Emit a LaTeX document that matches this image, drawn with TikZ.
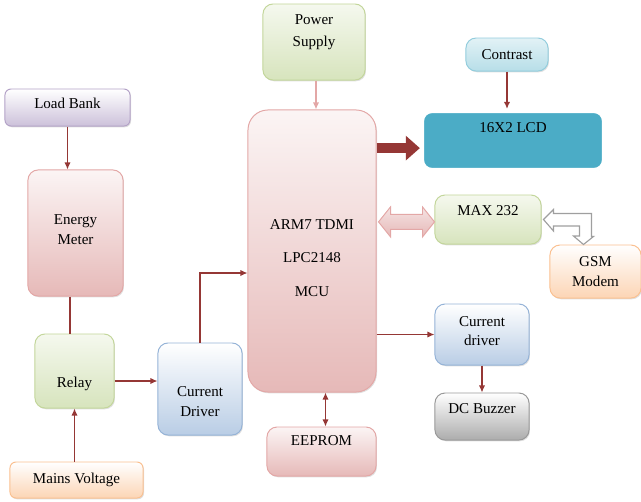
\documentclass[tikz,border=0pt]{standalone}
\usepackage{fontspec}
\setmainfont{Liberation Serif}
\usetikzlibrary{arrows.meta,shadows}

\definecolor{arrowred}{HTML}{953735}
\definecolor{pinkline}{HTML}{E3A7A6}
\definecolor{pinkbot}{HTML}{E6B9B8}
\definecolor{greenline}{HTML}{C3D69B}
\definecolor{greenbot}{HTML}{D7E4BD}
\definecolor{purpleline}{HTML}{B3A2C7}
\definecolor{purplebot}{HTML}{CCC1DA}
\definecolor{blueline}{HTML}{95B3D7}
\definecolor{bluebot}{HTML}{B9CDE5}
\definecolor{orangeline}{HTML}{FAC090}
\definecolor{orangebot}{HTML}{FCD5B5}
\definecolor{cyanline}{HTML}{93CDDD}
\definecolor{cyanbot}{HTML}{B7DEE8}
\definecolor{lcdfill}{HTML}{4BACC6}

\tikzset{
  blk/.style={draw, rounded corners=0.25cm, line width=0.7pt, align=center,
    font=\fontsize{10.7}{14}\selectfont,
    drop shadow={shadow xshift=0.7pt, shadow yshift=-0.9pt, opacity=0.25}},
  pinkblk/.style={blk, draw=pinkline, top color=pinkbot!15, bottom color=pinkbot},
  greenblk/.style={blk, draw=greenline, top color=greenbot!25, bottom color=greenbot},
  purpleblk/.style={blk, draw=purpleline, top color=white, bottom color=purplebot},
  blueblk/.style={blk, draw=blueline, top color=white, bottom color=bluebot},
  orangeblk/.style={blk, draw=orangeline, top color=white, bottom color=orangebot},
  cyanblk/.style={blk, draw=cyanline, top color=cyanbot!40, bottom color=cyanbot},
  grayblk/.style={blk, draw=gray!80, top color=white, bottom color=gray!65},
  lcdblk/.style={blk, draw=white, line width=3pt, fill=lcdfill},
  wire/.style={draw=arrowred, line width=0.9pt},
  arr/.style={wire, -{Latex[length=5pt,width=4.5pt]}},
  biarr/.style={wire, {Latex[length=5pt,width=4.5pt]}-{Latex[length=5pt,width=4.5pt]}},
  fatarr/.style={draw=arrowred, line width=7pt, -{Triangle[length=10pt,width=17pt]}},
  linkarr/.style={draw=pinkline, line width=0.7pt, top color=pinkbot!40, bottom color=pinkbot},
  hollowarr/.style={draw=gray!75, line width=0.8pt, fill=white},
}

\begin{document}
\begin{tikzpicture}[x=0.025cm, y=-0.025cm]
    \useasboundingbox (0,0) rectangle (641,502);

    \node[greenblk, minimum width=2.55cm, minimum height=1.9cm, text height=9pt, text depth=2pt] (psu) at (314,42) {Power\\[1.6pt]Supply};
    \node[cyanblk, minimum width=2.05cm, minimum height=0.825cm] (contrast) at (507,54.5) {Contrast};
    \node[purpleblk, rounded corners=0.15cm, minimum width=3.125cm, minimum height=0.925cm, text height=7.5pt, text depth=5.5pt] (load) at (67.5,107.5) {Load Bank};
    \node[lcdblk, minimum width=4.55cm, minimum height=1.475cm, text height=7.5pt, text depth=18.3pt] (lcd) at (513,140.5) {16X2 LCD};
    \node[pinkblk, rounded corners=0.5cm, minimum width=3.2cm, minimum height=7.05cm, text height=66pt, text depth=2pt] (mcu) at (312,251) {ARM7 TDMI\\[9.5pt]LPC2148\\[9.5pt]MCU};
    \node[pinkblk, minimum width=2.375cm, minimum height=3.15cm, text height=18pt, text depth=2pt] (meter) at (75.5,233) {Energy\\Meter};
    \node[greenblk, minimum width=2.65cm, minimum height=1.225cm, text height=7.5pt, text depth=12.6pt] (max) at (488,219.5) {MAX 232};
    \node[orangeblk, minimum width=2.275cm, minimum height=1.325cm, text height=23pt, text depth=2pt] (gsm) at (595.5,271.5) {GSM\\Modem};
    \node[greenblk, minimum width=1.975cm, minimum height=1.85cm, text height=26.1pt, text depth=2pt] (relay) at (74.5,371) {Relay};
    \node[blueblk, minimum width=2.1cm, minimum height=2.3cm, text height=40.8pt, text depth=2pt] (cdl) at (200,389) {Current\\Driver};
    \node[blueblk, minimum width=2.35cm, minimum height=1.525cm, text height=18pt, text depth=2pt] (cdr) at (482,334.5) {Current\\driver};
    \node[grayblk, minimum width=2.35cm, minimum height=1.175cm, text height=7.5pt, text depth=11.2pt] (buzzer) at (482,416.5) {DC Buzzer};
    \node[pinkblk, minimum width=2.725cm, minimum height=1.225cm, text height=7.5pt, text depth=15.4pt] (eeprom) at (321.5,451.5) {EEPROM};
    \node[orangeblk, rounded corners=0.15cm, minimum width=3.325cm, minimum height=0.9cm] (mains) at (76.5,480) {Mains Voltage};

    % plain connectors
    \draw[arr, draw=pinkline] (psu.south -| 316,0) -- (mcu.north -| 316,0);
    \draw[arr] (contrast.south) -- (contrast.south |- lcd.north);
    \draw[arr] (load.south) -- (load.south |- meter.north);
    \draw[wire] ([xshift=-0.14cm]meter.south) -- ([xshift=-0.14cm]meter.south |- relay.north);
    \draw[arr] (relay.south |- mains.north) -- (relay.south);
    \draw[arr] ([yshift=-0.25cm]relay.east) -- ([yshift=-0.25cm]relay.east -| cdl.west);
    \draw[arr] (cdl.north) |- ([yshift=-0.55cm]mcu.west);
    \draw[arr] (mcu.east |- cdr.west) -- (cdr.west);
    \draw[arr] (cdr.south) -- (buzzer.north);
    \draw[biarr] ([xshift=0.1cm]eeprom.north) -- ([xshift=0.1cm]eeprom.north |- mcu.south);

    % block arrows
    \draw[fatarr] ([yshift=-0.19cm]mcu.east |- lcd.west) -- ([yshift=-0.19cm]lcd.west);
    \coordinate (l) at ([xshift=0.05cm,yshift=-0.06cm]mcu.east |- max.west);
    \coordinate (r) at ([yshift=-0.06cm]max.west);
    \draw[linkarr] (l) -- ([shift={(12,-15)}]l) -- ([shift={(12,-7.5)}]l) -- ([shift={(-12,-7.5)}]r)
        -- ([shift={(-12,-15)}]r) -- (r) -- ([shift={(-12,15)}]r) -- ([shift={(-12,7.5)}]r)
        -- ([shift={(12,7.5)}]l) -- ([shift={(12,15)}]l) -- cycle;
    \coordinate (g) at ([xshift=0.05cm]max.east);
    \draw[hollowarr] (g) -- ++(10,-10) -- ++(0,4) -- ++(38,0) -- ++(0,23) -- ++(2,0)
        -- ([xshift=-0.3cm]gsm.north) -- ++(-10,-8.5) -- ++(6,0) -- ++(0,-10) -- ++(-26,0) -- ++(0,5) -- cycle;
\end{tikzpicture}
\end{document}
